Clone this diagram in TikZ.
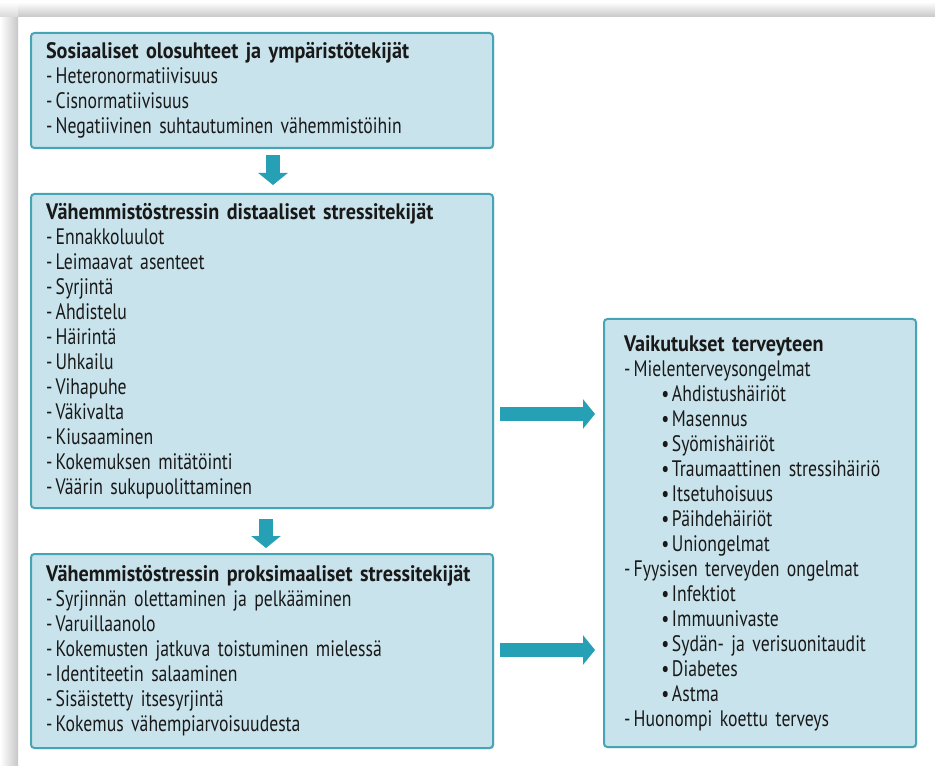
\documentclass[tikz,border=0pt]{standalone}
\usepackage{fontspec}
\setmainfont{PT Sans}[FakeStretch=0.79, BoldFeatures={FakeStretch=0.9}]
\usetikzlibrary{arrows.meta,shadows,calc}
\definecolor{boxfill}{RGB}{201,227,236}
\definecolor{boxline}{RGB}{70,165,180}
\definecolor{arrowc}{RGB}{38,160,180}
\definecolor{txt}{RGB}{25,25,25}
\newcommand\itemdash{-\hspace{2.5pt}}
\newcommand\itembul{\hspace*{28pt}•\hspace{2pt}}
\begin{document}
\begin{tikzpicture}[x=0.75pt,y=-0.75pt,
  box/.style={draw=boxline, line width=1.5pt, fill=boxfill, rounded corners=2.5pt,
    anchor=north west, align=left, inner ysep=0pt, text=txt,
    font=\fontsize{16.8}{18.75}\selectfont,
    drop shadow={shadow xshift=0.8pt, shadow yshift=-0.8pt, opacity=0.35, fill=black!60}},
  bigarrow/.style={draw=arrowc, line width=10.5pt, line cap=butt,
    -{Triangle[length=9pt,width=21.75pt]}}]
\fill[white] (0,0) rectangle (935,766);
\useasboundingbox (0,0) rectangle (935,766);
\shade[top color=white, bottom color=black!22] (18,2) rectangle (935,17);
\shade[left color=white, right color=black!22] (0,17) rectangle (18,766);
\shade[top color=white, bottom color=black!15] (0,2) rectangle (18,17);

\node[box, inner xsep=11.25pt, text width=324pt, minimum height=86.25pt] (b1) at (30,32)
 {\textbf{Sosiaaliset olosuhteet ja ympäristötekijät}\\
  \itemdash Heteronormatiivisuus\\
  \itemdash Cisnormatiivisuus\\
  \itemdash Negatiivinen suhtautuminen vähemmistöihin};

\node[box, inner xsep=11.25pt, text width=324pt, minimum height=235.5pt] (b2) at (30,193)
 {\textbf{Vähemmistöstressin distaaliset stressitekijät}\\
  \itemdash Ennakkoluulot\\
  \itemdash Leimaavat asenteet\\
  \itemdash Syrjintä\\
  \itemdash Ahdistelu\\
  \itemdash Häirintä\\
  \itemdash Uhkailu\\
  \itemdash Vihapuhe\\
  \itemdash Väkivalta\\
  \itemdash Kiusaaminen\\
  \itemdash Kokemuksen mitätöinti\\
  \itemdash Väärin sukupuolittaminen};

\node[box, inner xsep=11.25pt, text width=324pt, minimum height=145.5pt] (b3) at (30,553)
 {\textbf{Vähemmistöstressin proksimaaliset stressitekijät}\\
  \itemdash Syrjinnän olettaminen ja pelkääminen\\
  \itemdash Varuillaanolo\\
  \itemdash Kokemusten jatkuva toistuminen mielessä\\
  \itemdash Identiteetin salaaminen\\
  \itemdash Sisäistetty itsesyrjintä\\
  \itemdash Kokemus vähempiarvoisuudesta};

\node[box, inner xsep=15pt, text width=204pt, minimum height=321pt] (rb) at (603,318)
 {\textbf{Vaikutukset terveyteen}\\
  \itemdash Mielenterveysongelmat\\
  \itembul Ahdistushäiriöt\\
  \itembul Masennus\\
  \itembul Syömishäiriöt\\
  \itembul Traumaattinen stressihäiriö\\
  \itembul Itsetuhoisuus\\
  \itembul Päihdehäiriöt\\
  \itembul Uniongelmat\\
  \itemdash Fyysisen terveyden ongelmat\\
  \itembul Infektiot\\
  \itembul Immuunivaste\\
  \itembul Sydän- ja verisuonitaudit\\
  \itembul Diabetes\\
  \itembul Astma\\
  \itemdash Huonompi koettu terveys};

\coordinate (a1) at (273,0);
\coordinate (a2) at (266,0);
\coordinate (h1) at (0,414);
\coordinate (h2) at (0,650);
\draw[bigarrow, shorten <=4.5pt, shorten >=6pt] (b1.south -| a1) -- (b2.north -| a1);
\draw[bigarrow, shorten <=7.5pt, shorten >=3.75pt] (b2.south -| a2) -- (b3.north -| a2);
\draw[bigarrow, shorten <=4.5pt, shorten >=6pt] (b2.east |- h1) -- (rb.west |- h1);
\draw[bigarrow, shorten <=4.5pt, shorten >=6pt] (b3.east |- h2) -- (rb.west |- h2);
\end{tikzpicture}
\end{document}
